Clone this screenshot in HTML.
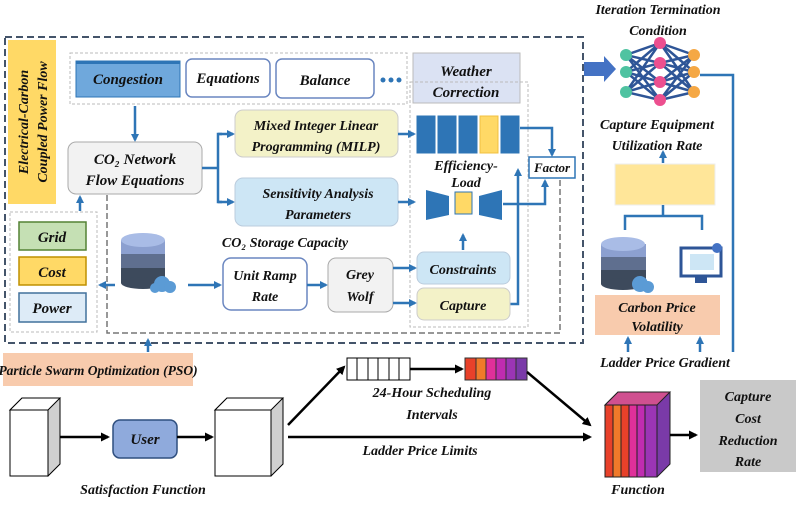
<!DOCTYPE html>
<html><head><meta charset="utf-8"><style>
body{margin:0;background:#fff}
svg text{font-family:"Liberation Serif",serif;font-style:italic;font-weight:bold;fill:#111}
</style></head><body>
<svg width="800" height="501" viewBox="0 0 800 501" xmlns="http://www.w3.org/2000/svg">
<defs>
<marker id="ab" markerWidth="8" markerHeight="8" refX="6" refY="4" orient="auto" markerUnits="userSpaceOnUse"><path d="M0,0 L8,4 L0,8 z" fill="#2e75b6"/></marker>
<marker id="ak" markerWidth="9" markerHeight="9" refX="7" refY="4.5" orient="auto" markerUnits="userSpaceOnUse"><path d="M0,0 L9,4.5 L0,9 z" fill="#000"/></marker>
<marker id="ag" markerWidth="8" markerHeight="8" refX="6" refY="4" orient="auto" markerUnits="userSpaceOnUse"><path d="M0,0 L8,4 L0,8 z" fill="#888"/></marker>
</defs>
<rect x="5" y="37" width="578" height="306" fill="none" stroke="#44546a" stroke-width="2" stroke-dasharray="7,4"/>
<rect x="8" y="40" width="48" height="164" fill="#ffd966"/>
<text transform="translate(28,122) rotate(-90)" text-anchor="middle" font-size="14">Electrical-Carbon</text>
<text transform="translate(47,122) rotate(-90)" text-anchor="middle" font-size="14">Coupled Power Flow</text>
<rect x="70" y="53" width="337" height="51" fill="none" stroke="#bbb" stroke-dasharray="3,2"/>
<rect x="76" y="61" width="104" height="36" fill="#6fa8dc" stroke="#2e75b6"/>
<rect x="76" y="61" width="104" height="3" fill="#2e75b6"/>
<text x="128" y="84" text-anchor="middle" font-size="15">Congestion</text>
<rect x="186" y="59" width="84" height="38" rx="6" fill="#fff" stroke="#6a86c0" stroke-width="1.5"/>
<text x="228" y="83" text-anchor="middle" font-size="15">Equations</text>
<rect x="276" y="59" width="98" height="39" rx="6" fill="#fff" stroke="#6a86c0" stroke-width="1.5"/>
<text x="325" y="85" text-anchor="middle" font-size="15">Balance</text>
<circle cx="383" cy="80" r="2.5" fill="#2e75b6"/><circle cx="391" cy="80" r="2.5" fill="#2e75b6"/><circle cx="399" cy="80" r="2.5" fill="#2e75b6"/>
<rect x="413" y="53" width="107" height="50" fill="#dbe2f3" stroke="#bbb"/>
<text x="466" y="76" text-anchor="middle" font-size="15">Weather</text>
<text x="466" y="97" text-anchor="middle" font-size="15">Correction</text>
<rect x="410" y="82" width="118" height="245" fill="none" stroke="#bbb" stroke-dasharray="3,2"/>
<path d="M560,180 V333 H107 V172" fill="none" stroke="#777" stroke-width="1.5" stroke-dasharray="6,3" marker-end="url(#ag)"/>
<line x1="135" y1="106" x2="135" y2="140" stroke="#2e75b6" stroke-width="2.5" marker-end="url(#ab)"/>
<rect x="68" y="142" width="134" height="52" rx="8" fill="#f2f2f2" stroke="#aaa"/>
<text x="135" y="164" text-anchor="middle" font-size="15">CO₂ Network</text>
<text x="135" y="185" text-anchor="middle" font-size="15">Flow Equations</text>
<path d="M202,168 H218 V134 H222 M218,168 V202 H222" fill="none" stroke="#2e75b6" stroke-width="2.5"/>
<line x1="218" y1="134" x2="233" y2="134" stroke="#2e75b6" stroke-width="2.5" marker-end="url(#ab)"/>
<line x1="218" y1="202" x2="233" y2="202" stroke="#2e75b6" stroke-width="2.5" marker-end="url(#ab)"/>
<rect x="235" y="110" width="163" height="47" rx="8" fill="#f3f2c8" stroke="#ccc"/>
<text x="316" y="130" text-anchor="middle" font-size="14">Mixed Integer Linear</text>
<text x="316" y="151" text-anchor="middle" font-size="14">Programming (MILP)</text>
<rect x="235" y="178" width="163" height="48" rx="8" fill="#cde6f5" stroke="#bcd"/>
<text x="318" y="198" text-anchor="middle" font-size="14">Sensitivity Analysis</text>
<text x="318" y="219" text-anchor="middle" font-size="14">Parameters</text>
<text x="285" y="247" text-anchor="middle" font-size="14">CO₂ Storage Capacity</text>
<line x1="398" y1="134" x2="414" y2="134" stroke="#2e75b6" stroke-width="2.5" marker-end="url(#ab)"/>
<line x1="398" y1="202" x2="414" y2="202" stroke="#2e75b6" stroke-width="2.5" marker-end="url(#ab)"/>
<g stroke="#2e75b6">
<rect x="417" y="116" width="18" height="37" fill="#2e75b6"/>
<rect x="438" y="116" width="18" height="37" fill="#2e75b6"/>
<rect x="459" y="116" width="18" height="37" fill="#2e75b6"/>
<rect x="480" y="116" width="18" height="37" fill="#ffd966" stroke="#f0c040"/>
<rect x="501" y="116" width="18" height="37" fill="#2e75b6"/>
</g>
<text x="466" y="170" text-anchor="middle" font-size="14">Efficiency-</text>
<text x="466" y="187" text-anchor="middle" font-size="14">Load</text>
<path d="M426,190 L449,196 V215 L426,220 z" fill="#2e75b6"/>
<rect x="455" y="192" width="17" height="22" fill="#ffd966" stroke="#2e75b6"/>
<path d="M479,196 L502,190 V220 L479,215 z" fill="#2e75b6"/>
<path d="M520,128 H552 V155" fill="none" stroke="#2e75b6" stroke-width="2.5" marker-end="url(#ab)"/>
<rect x="529" y="157" width="46" height="21" fill="#fff" stroke="#2e75b6" stroke-width="1.5"/>
<text x="552" y="172" text-anchor="middle" font-size="13">Factor</text>
<path d="M503,204 H545 V181" fill="none" stroke="#2e75b6" stroke-width="2.5" marker-end="url(#ab)"/>
<path d="M510,304 H518 V170" fill="none" stroke="#2e75b6" stroke-width="2.5" marker-end="url(#ab)"/>
<line x1="463" y1="250" x2="463" y2="235" stroke="#2e75b6" stroke-width="2.5" marker-end="url(#ab)"/>
<rect x="10" y="212" width="87" height="120" fill="none" stroke="#bbb" stroke-dasharray="3,2"/>
<line x1="80" y1="211" x2="80" y2="197" stroke="#2e75b6" stroke-width="2.5" marker-end="url(#ab)"/>
<rect x="19" y="222" width="67" height="28" fill="#c5e0b4" stroke="#548235" stroke-width="1.5"/>
<text x="52" y="242" text-anchor="middle" font-size="15">Grid</text>
<rect x="19" y="257" width="67" height="28" fill="#ffd966" stroke="#bf9000" stroke-width="1.5"/>
<text x="52" y="277" text-anchor="middle" font-size="15">Cost</text>
<rect x="19" y="293" width="67" height="29" fill="#ddebf7" stroke="#41719c" stroke-width="1.5"/>
<text x="52" y="313" text-anchor="middle" font-size="15">Power</text>
<g>
<rect x="121" y="240" width="44" height="43" fill="#3d4a5c"/>
<rect x="121" y="240" width="44" height="28" fill="#5f6f8f"/>
<rect x="121" y="240" width="44" height="14" fill="#8ca0d0"/>
<ellipse cx="143" cy="283" rx="22" ry="6" fill="#3d4a5c"/>
<ellipse cx="143" cy="240" rx="22" ry="7" fill="#a9bce6"/>
<circle cx="162" cy="284" r="8" fill="#5b9bd5"/><circle cx="170" cy="287" r="6" fill="#5b9bd5"/><circle cx="155" cy="288" r="5" fill="#5b9bd5"/>
</g>
<line x1="115" y1="285" x2="100" y2="285" stroke="#2e75b6" stroke-width="2.5" marker-end="url(#ab)"/>
<line x1="188" y1="285" x2="220" y2="285" stroke="#2e75b6" stroke-width="2.5" marker-end="url(#ab)"/>
<rect x="223" y="258" width="84" height="52" rx="8" fill="#fff" stroke="#6a86c0" stroke-width="1.5"/>
<text x="265" y="280" text-anchor="middle" font-size="14">Unit Ramp</text>
<text x="265" y="301" text-anchor="middle" font-size="14">Rate</text>
<line x1="307" y1="285" x2="326" y2="285" stroke="#2e75b6" stroke-width="2.5" marker-end="url(#ab)"/>
<rect x="328" y="258" width="65" height="54" rx="8" fill="#f2f2f2" stroke="#aaa"/>
<text x="360" y="279" text-anchor="middle" font-size="14">Grey</text>
<text x="360" y="301" text-anchor="middle" font-size="14">Wolf</text>
<line x1="393" y1="268" x2="415" y2="268" stroke="#2e75b6" stroke-width="2.5" marker-end="url(#ab)"/>
<line x1="393" y1="303" x2="415" y2="303" stroke="#2e75b6" stroke-width="2.5" marker-end="url(#ab)"/>
<rect x="417" y="252" width="93" height="32" rx="7" fill="#cde6f5" stroke="#bcd"/>
<text x="463" y="274" text-anchor="middle" font-size="14">Constraints</text>
<rect x="417" y="288" width="93" height="32" rx="7" fill="#f3f2c8" stroke="#ccc"/>
<text x="463" y="310" text-anchor="middle" font-size="14">Capture</text>
<path d="M584,62 H604 V56 L616,69 L604,82 V76 H584 z" fill="#4472c4"/>
<text x="658" y="14" text-anchor="middle" font-size="14">Iteration Termination</text>
<text x="658" y="35" text-anchor="middle" font-size="14">Condition</text>
<g stroke="#2e5597" stroke-width="2.5">
<path d="M626,55 L660,43 M626,55 L660,63 M626,55 L660,82 M626,55 L660,100 M626,72 L660,43 M626,72 L660,63 M626,72 L660,82 M626,72 L660,100 M626,92 L660,43 M626,92 L660,63 M626,92 L660,82 M626,92 L660,100"/>
<path d="M694,55 L660,43 M694,55 L660,63 M694,55 L660,82 M694,55 L660,100 M694,72 L660,43 M694,72 L660,63 M694,72 L660,82 M694,72 L660,100 M694,92 L660,43 M694,92 L660,63 M694,92 L660,82 M694,92 L660,100"/>
</g>
<g>
<circle cx="626" cy="55" r="6" fill="#4fc3a1"/><circle cx="626" cy="72" r="6" fill="#4fc3a1"/><circle cx="626" cy="92" r="6" fill="#4fc3a1"/>
<circle cx="660" cy="43" r="6" fill="#ec4f8f"/><circle cx="660" cy="63" r="6" fill="#ec4f8f"/><circle cx="660" cy="82" r="6" fill="#ec4f8f"/><circle cx="660" cy="100" r="6" fill="#ec4f8f"/>
<circle cx="694" cy="55" r="6" fill="#f5a845"/><circle cx="694" cy="72" r="6" fill="#f5a845"/><circle cx="694" cy="92" r="6" fill="#f5a845"/>
</g>
<path d="M700,75 H733 V352" fill="none" stroke="#2e75b6" stroke-width="2.5"/>
<text x="657" y="129" text-anchor="middle" font-size="14">Capture Equipment</text>
<text x="657" y="150" text-anchor="middle" font-size="14">Utilization Rate</text>
<line x1="663" y1="163" x2="663" y2="152" stroke="#2e75b6" stroke-width="2.5" marker-end="url(#ab)"/>
<rect x="615" y="164" width="100" height="41" fill="#ffe699" stroke="#eee"/>
<path d="M663,205 V216 M625,230 V216 H702 V230" fill="none" stroke="#2e75b6" stroke-width="2.5"/>
<g>
<rect x="601" y="244" width="45" height="40" fill="#3d4a5c"/>
<rect x="601" y="244" width="45" height="26" fill="#5f6f8f"/>
<rect x="601" y="244" width="45" height="13" fill="#8ca0d0"/>
<ellipse cx="623" cy="284" rx="22" ry="6" fill="#3d4a5c"/>
<ellipse cx="623" cy="244" rx="22" ry="7" fill="#a9bce6"/>
<circle cx="640" cy="284" r="8" fill="#5b9bd5"/><circle cx="648" cy="287" r="6" fill="#5b9bd5"/>
</g>
<rect x="681" y="248" width="40" height="28" fill="#fff" stroke="#2e5597" stroke-width="3"/>
<rect x="690" y="254" width="24" height="16" fill="#cde6f5"/>
<rect x="695" y="277" width="12" height="6" fill="#2e5597"/>
<circle cx="717" cy="248" r="5" fill="#4472c4"/>
<rect x="595" y="295" width="125" height="40" fill="#f8cbad"/>
<text x="657" y="312" text-anchor="middle" font-size="14">Carbon Price</text>
<text x="657" y="331" text-anchor="middle" font-size="14">Volatility</text>
<line x1="628" y1="352" x2="628" y2="338" stroke="#2e75b6" stroke-width="2.5" marker-end="url(#ab)"/>
<line x1="700" y1="352" x2="700" y2="338" stroke="#2e75b6" stroke-width="2.5" marker-end="url(#ab)"/>
<text x="665" y="367" text-anchor="middle" font-size="14">Ladder Price Gradient</text>
<line x1="148" y1="352" x2="148" y2="340" stroke="#2e75b6" stroke-width="2.5" marker-end="url(#ab)"/>
<rect x="3" y="353" width="190" height="33" fill="#f8cbad"/>
<text x="98" y="375" text-anchor="middle" font-size="13.5">Particle Swarm Optimization (PSO)</text>
<g stroke="#000" stroke-width="1">
<path d="M10,410 L22,398 H60 V464 L48,476 z" fill="#d0d0d0"/><rect x="10" y="410" width="38" height="66" fill="#fff"/><path d="M10,410 L22,398 H60 L48,410 z" fill="#fff"/>
<path d="M215,410 L227,398 H283 V464 L271,476 z" fill="#d0d0d0"/><rect x="215" y="410" width="56" height="66" fill="#fff"/><path d="M215,410 L227,398 H283 L271,410 z" fill="#fff"/>
</g>
<line x1="60" y1="437" x2="108" y2="437" stroke="#000" stroke-width="2.5" marker-end="url(#ak)"/>
<rect x="113" y="420" width="64" height="38" rx="7" fill="#8faadc" stroke="#2f4f7f" stroke-width="1.5"/>
<text x="145" y="444" text-anchor="middle" font-size="15">User</text>
<line x1="177" y1="437" x2="212" y2="437" stroke="#000" stroke-width="2.5" marker-end="url(#ak)"/>
<line x1="288" y1="437" x2="590" y2="437" stroke="#000" stroke-width="2.5" marker-end="url(#ak)"/>
<line x1="288" y1="425" x2="344" y2="367" stroke="#000" stroke-width="2.5" marker-end="url(#ak)"/>
<g stroke="#000" fill="#fff"><rect x="347" y="358" width="63" height="22"/>
<line x1="357" y1="358" x2="357" y2="380"/><line x1="368" y1="358" x2="368" y2="380"/><line x1="378" y1="358" x2="378" y2="380"/><line x1="389" y1="358" x2="389" y2="380"/><line x1="399" y1="358" x2="399" y2="380"/></g>
<line x1="410" y1="369" x2="462" y2="369" stroke="#000" stroke-width="2.5" marker-end="url(#ak)"/>
<g stroke="#333"><rect x="465" y="358" width="11" height="22" fill="#e8412a"/><rect x="476" y="358" width="10" height="22" fill="#f07a2a"/><rect x="486" y="358" width="10" height="22" fill="#e0309a"/><rect x="496" y="358" width="10" height="22" fill="#c02cb0"/><rect x="506" y="358" width="10" height="22" fill="#9b35b5"/><rect x="516" y="358" width="11" height="22" fill="#7a3aa8"/></g>
<line x1="527" y1="372" x2="590" y2="425" stroke="#000" stroke-width="2.5" marker-end="url(#ak)"/>
<text x="432" y="397" text-anchor="middle" font-size="14">24-Hour Scheduling</text>
<text x="432" y="419" text-anchor="middle" font-size="14">Intervals</text>
<text x="420" y="455" text-anchor="middle" font-size="14">Ladder Price Limits</text>
<g stroke="#222">
<path d="M605,405 L618,392 H670 V464 L657,477 H605 z" fill="#7a3aa8"/>
<rect x="605" y="405" width="8" height="72" fill="#e8412a"/><rect x="613" y="405" width="8" height="72" fill="#f07a2a"/><rect x="621" y="405" width="8" height="72" fill="#e8412a"/><rect x="629" y="405" width="8" height="72" fill="#e0309a"/><rect x="637" y="405" width="8" height="72" fill="#c02cb0"/><rect x="645" y="405" width="12" height="72" fill="#9b35b5"/>
<path d="M605,405 L618,392 H670 L657,405 z" fill="#d05090"/>
</g>
<text x="638" y="494" text-anchor="middle" font-size="14">Function</text>
<text x="143" y="494" text-anchor="middle" font-size="14">Satisfaction Function</text>
<line x1="670" y1="435" x2="696" y2="435" stroke="#000" stroke-width="2.5" marker-end="url(#ak)"/>
<rect x="700" y="380" width="96" height="92" fill="#c9c9c9"/>
<text x="748" y="401" text-anchor="middle" font-size="14">Capture</text>
<text x="748" y="423" text-anchor="middle" font-size="14">Cost</text>
<text x="748" y="445" text-anchor="middle" font-size="14">Reduction</text>
<text x="748" y="466" text-anchor="middle" font-size="14">Rate</text>
</svg>
</body></html>
